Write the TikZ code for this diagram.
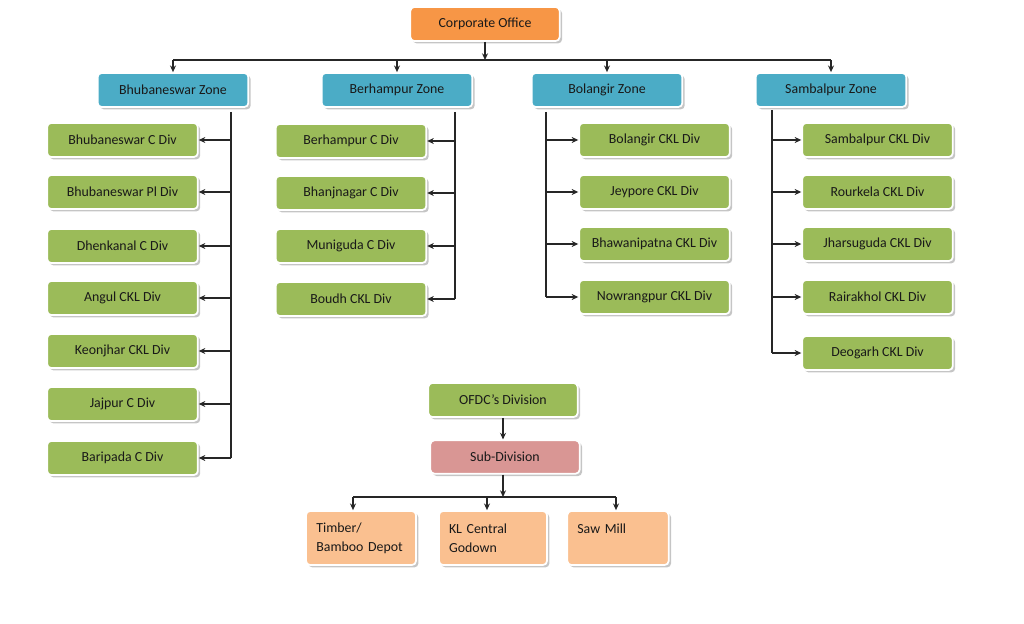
\documentclass[tikz,border=0pt]{standalone}
\usepackage{fontspec}
\setmainfont{Carlito}
\usetikzlibrary{arrows.meta,positioning,shadows}
\definecolor{offorange}{RGB}{247,150,70}
\definecolor{zoneblue}{RGB}{75,172,198}
\definecolor{divgreen}{RGB}{155,187,89}
\definecolor{subpink}{RGB}{217,150,148}
\definecolor{unitpeach}{RGB}{250,192,144}
\tikzset{
  box/.style={rounded corners=3pt, draw=white, line width=1.3pt, inner sep=2pt,
      font=\fontsize{10.4}{14}\selectfont, text=black!90,
      drop shadow={shadow xshift=1.8pt, shadow yshift=-1.8pt, fill=black!45, opacity=0.5}},
  offbox/.style={box, fill=offorange, minimum width=112pt, minimum height=25.5pt},
  zbox/.style={box, fill=zoneblue, minimum width=113pt, minimum height=25.5pt},
  dbox/.style={box, fill=divgreen, minimum width=113pt, minimum height=25.5pt},
  sbox/.style={box, fill=subpink, minimum width=112pt, minimum height=25pt},
  ubox/.style={box, fill=unitpeach, minimum height=40.5pt, align=left, inner xsep=6.5pt},
  ln/.style={line width=0.8pt, black!85},
  arr/.style={ln, -{Stealth[length=5pt, width=4.5pt]}},
}
\begin{document}
\begin{tikzpicture}[x=0.75pt, y=-0.75pt]
\useasboundingbox (0,0) rectangle (1024,624);
%---- head office and zones
\node[offbox] (co) at (485,24) {Corporate Office};
\node[zbox] (bz) at (173,90) {Bhubaneswar Zone};
\node[zbox] (hz) at (397,90) {Berhampur Zone};
\node[zbox] (lz) at (607,90) {Bolangir Zone};
\node[zbox] (sz) at (831,90) {Sambalpur Zone};
\coordinate (top) at (485,60);
\draw[arr] (co.south) -- (co.south |- top);
\draw[ln] (bz.north |- top) -- (sz.north |- top);
\foreach \z in {bz,hz,lz,sz}
  \draw[arr] (\z.north |- top) -- (\z.north);
%---- Bhubaneswar zone
\foreach \y/\t [count=\i] in {140/Bhubaneswar C Div, 192/Bhubaneswar Pl Div,
    246/Dhenkanal C Div, 298/Angul CKL Div, 351/Keonjhar CKL Div,
    404/Jajpur C Div, 458/Baripada C Div}
  \node[dbox] (bd\i) at (122.5,\y) {\t};
\coordinate (bt) at (231,112);
\draw[ln] (bt) -- (bt |- bd7.east);
\foreach \i in {1,...,7}
  \draw[arr] (bt |- bd\i.east) -- (bd\i.east);
%---- Berhampur zone
\foreach \y/\t [count=\i] in {141/Berhampur C Div, 193/Bhanjnagar C Div,
    246/Muniguda C Div, 299/Boudh CKL Div}
  \node[dbox] (hd\i) at (351,\y) {\t};
\coordinate (ht) at (455,112);
\draw[ln] (ht) -- (ht |- hd4.east);
\foreach \i in {1,...,4}
  \draw[arr] (ht |- hd\i.east) -- (hd\i.east);
%---- Bolangir zone
\foreach \y/\t [count=\i] in {140/Bolangir CKL Div, 192/Jeypore CKL Div,
    244/Bhawanipatna CKL Div, 297/Nowrangpur CKL Div}
  \node[dbox] (ld\i) at (654.5,\y) {\t};
\coordinate (lt) at (546,112);
\draw[ln] (lt) -- (lt |- ld4.west);
\foreach \i in {1,...,4}
  \draw[arr] (lt |- ld\i.west) -- (ld\i.west);
%---- Sambalpur zone
\foreach \y/\t [count=\i] in {140/Sambalpur CKL Div, 192/Rourkela CKL Div,
    244/Jharsuguda CKL Div, 297/Rairakhol CKL Div, 353/Deogarh CKL Div}
  \node[dbox] (sd\i) at (877.5,\y) {\t};
\coordinate (st) at (772,110);
\draw[ln] (st) -- (st |- sd5.west);
\foreach \i in {1,...,5}
  \draw[arr] (st |- sd\i.west) -- (sd\i.west);
%---- division level
\node[dbox, minimum width=112pt] (of) at (503,400) {OFDC’s Division};
\node[sbox] (sub) at (505,457) {Sub-Division};
\draw[arr] (of.south) -- (of.south |- sub.north);
\node[ubox, minimum width=82.5pt, text width=67pt] (u1) at (361,538) {Timber/\\Bamboo Depot};
\node[ubox, minimum width=81pt, text width=66pt] (u2) at (493,538) {KL Central\\Godown};
\node[ubox, minimum width=76pt, text width=61pt] (u3) at (618,538) {Saw Mill\\~};
\coordinate (bot) at (503,497);
\draw[arr] (sub.south -| bot) -- (bot);
\coordinate (c1) at (353,497);
\coordinate (c2) at (487,497);
\coordinate (c3) at (616,497);
\draw[ln] (c1) -- (c3);
\draw[arr] (c1) -- (c1 |- u1.north);
\draw[arr] (c2) -- (c2 |- u2.north);
\draw[arr] (c3) -- (c3 |- u3.north);
\end{tikzpicture}
\end{document}
